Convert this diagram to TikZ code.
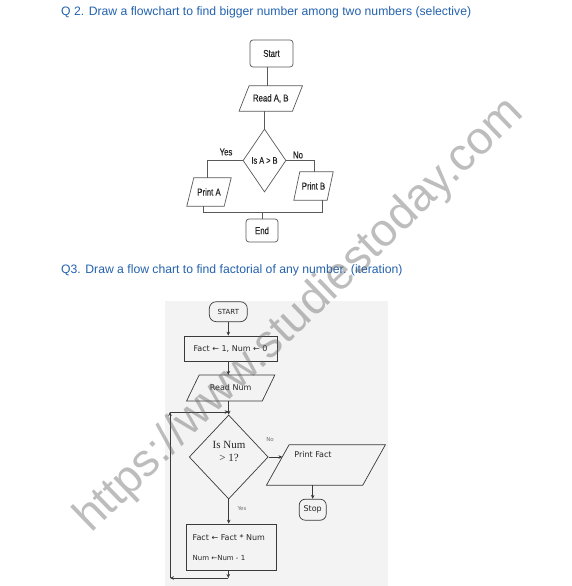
\documentclass[tikz,border=0pt]{standalone}
\usepackage{fontspec}
\setmainfont{Liberation Sans}
\newfontfamily\narrowf[FakeStretch=0.78,FakeBold=0.4]{Liberation Sans}
\newfontfamily\dejaf{DejaVu Sans}
\newfontfamily\serf{Liberation Serif}
\usetikzlibrary{shapes.geometric,arrows.meta,calc}
\definecolor{titleblue}{HTML}{2462AE}
\definecolor{lnA}{HTML}{5A5A5A}
\definecolor{lnB}{HTML}{3A3A3A}
\definecolor{wmark}{HTML}{646464}
\definecolor{panel}{HTML}{F3F3F3}
\newcommand\parabox[3]{\draw[#3] ([xshift=#2]#1.north west) -- ([xshift=#2]#1.north east) -- ([xshift=-#2]#1.south east) -- ([xshift=-#2]#1.south west) -- cycle;}
\tikzset{
  titletext/.style={anchor=west, inner sep=0, text=titleblue, font=\fontsize{12.2}{14}\selectfont},
  aline/.style={draw=lnA, line width=0.7},
  abox/.style={aline, rounded corners=3, inner sep=0, text=black!85, font=\narrowf\fontsize{10}{11}\selectfont},
  atext/.style={inner sep=0, text=black!85, font=\narrowf\fontsize{10}{11}\selectfont},
  bline/.style={draw=lnB, line width=0.7},
  barrow/.style={bline, -{Stealth[length=4,width=3.6]}},
  bbox/.style={bline, inner sep=0, text=black!85, font=\dejaf\fontsize{8}{9}\selectfont},
  btext/.style={inner sep=0, text=black!85, font=\dejaf\fontsize{8}{9}\selectfont},
  blabel/.style={inner sep=0, text=black!55, font=\dejaf\fontsize{5.5}{6}\selectfont},
}
\begin{document}
\begin{tikzpicture}[x=1pt,y=-1pt]
\useasboundingbox (0,0) rectangle (572,586);
\fill[white] (0,0) rectangle (572,586);

% ---------- Q2 ----------
\node[titletext] (t1) at (61,12.5) {Q 2. Draw a flowchart to find bigger number among two numbers (selective)};

\node[abox, minimum width=43, minimum height=27] (start1) at (271.5,53.5) {Start};
\node[atext, minimum width=53, minimum height=25] (read1) at (270.75,98.5) {Read A, B};
\parabox{read1}{5}{aline}
\node[aline, diamond, inner sep=0, minimum width=43, minimum height=63, text=black!85, font=\narrowf\fontsize{9.5}{10}\selectfont] (dia1) at (264.5,160.5) {Is A > B};
\node[atext, minimum width=37, minimum height=28] (pa) at (209,192) {Print A};
\parabox{pa}{3.5}{aline}
\node[atext, minimum width=33, minimum height=28] (pb) at (313.5,186) {Print B};
\parabox{pb}{3}{aline}
\node[abox, minimum width=32, minimum height=23] (end1) at (262,230.5) {End};
\node[atext] (yes1) at (226,152) {Yes};
\node[atext] (no1) at (298,155) {No};
\coordinate (jn) at (262,212);

\draw[aline] ([xshift=-4]start1.south) -- ([xshift=-4]start1.south |- read1.north);
\draw[aline] (dia1.north |- read1.south) -- (dia1.north);
\draw[aline] (dia1.west) -| ([xshift=-1.5]pa.north);
\draw[aline] (dia1.east) -| ([xshift=0.5]pb.north);
\draw[aline] ([xshift=-5.5]pa.south) |- (jn);
\draw[aline] ([xshift=8.5]pb.south) |- (jn);
\draw[aline] (jn) -- (end1.north);

% ---------- Q3 ----------
\node[titletext] (t2) at (61,270.5) {Q3. Draw a flow chart to find factorial of any number. (iteration)};
\fill[panel] (165,301) rectangle (388,586);

\node[bbox, rounded corners=7, minimum width=38, minimum height=20, font=\dejaf\fontsize{7}{8}\selectfont] (start2) at (228.3,311.7) {START};
\node[bbox, minimum width=93, minimum height=25] (init) at (230.5,348.5) {Fact ← 1, Num ← 0};
\node[btext, minimum width=75.3, minimum height=25.7] (read2) at (230.7,388) {Read Num};
\parabox{read2}{6.3}{bline}
\node[bline, diamond, inner sep=0, minimum width=79, minimum height=84] (dia2) at (228.7,457) {};
\node[inner sep=0, align=center, text=black!85, font=\serf\fontsize{11}{13}\selectfont] (dtext) at (229,451.5) {Is Num\\> 1?};
\node[btext, minimum width=95.9, minimum height=40] (pf) at (325.9,465) {};
\parabox{pf}{11.3}{bline}
\node[btext] (pftext) at (313,455) {Print Fact};
\node[bbox, rounded corners=6, minimum width=27, minimum height=21] (stop) at (312.7,509.7) {Stop};
\node[bbox, minimum width=90, minimum height=46] (calc) at (231.7,547) {};
\node[btext, anchor=west] (c1) at (192.5,538) {Fact ← Fact * Num};
\node[btext, anchor=west, font=\dejaf\fontsize{7}{8}\selectfont] (c2) at (192.5,558) {Num ←Num - 1};
\node[blabel] (no2) at (270,440) {No};
\node[blabel] (yes2) at (242,508.5) {Yes};

\coordinate (pfin) at (282.5,457);
\coordinate (lb) at (228.3,578);
\coordinate (ll) at (170,578);
\coordinate (lt) at (170,412);

\draw[barrow] (start2.south) -- (start2.south |- init.north);
\draw[barrow] (start2.south |- init.south) -- (start2.south |- read2.north);
\draw[barrow] (dia2.north |- read2.south) -- (dia2.north);
\draw[barrow] (dia2.east) -- (pfin);
\draw[barrow] (stop.north |- pf.south) -- (stop.north);
\draw[barrow] (dia2.south) -- (dia2.south |- calc.north);
\draw[barrow] (lb |- calc.south) -- (lb);
\draw[barrow] (lb) -- (ll);
\draw[barrow] (ll) -- (lt);
\draw[barrow] (lt) -- (lt -| dia2.north);

% ---------- watermark ----------
\node[inner sep=0, rotate=44, text=wmark, text opacity=0.42, font=\fontsize{46}{46}\selectfont] (wm) at (300,316) {https://www.studiestoday.com};
\end{tikzpicture}
\end{document}
